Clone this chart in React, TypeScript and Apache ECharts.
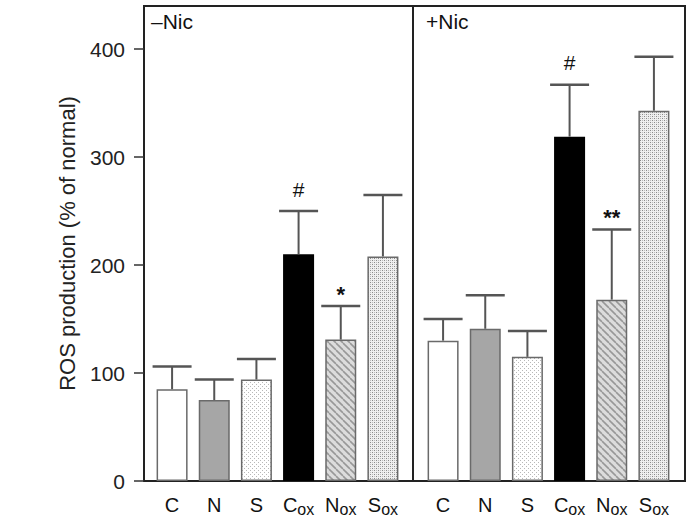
import React, { useEffect, useRef } from 'react';
import * as echarts from 'echarts';

const categories = ['C', 'N', 'S', 'Cox', 'Nox', 'Sox'];
const yTicks = [0, 100, 200, 300, 400];
const minusNicMeans = [85, 75, 94, 210, 131, 208];
const minusNicErrors = [21, 19, 19, 40, 31, 57];
const minusNicMarks = ['', '', '', '#', '*', ''];
const plusNicMeans = [130, 141, 115, 319, 168, 343];
const plusNicErrors = [20, 31, 24, 48, 65, 50];
const plusNicMarks = ['', '', '', '#', '**', ''];
const panelLabels = ['\u2013Nic', '+Nic'];
const yAxisName = 'ROS production (% of normal)';

const FONT = '"Liberation Sans", Arial, Helvetica, sans-serif';

function makeTile(size: number, bg: string, draw: (ctx: CanvasRenderingContext2D) => void) {
  const c = document.createElement('canvas');
  c.width = size;
  c.height = size;
  const ctx = c.getContext('2d') as CanvasRenderingContext2D;
  ctx.fillStyle = bg;
  ctx.fillRect(0, 0, size, size);
  draw(ctx);
  return c;
}

function buildFills() {
  const light = makeTile(4, '#ffffff', (ctx) => {
    ctx.fillStyle = '#b8b8b8';
    ctx.fillRect(0, 0, 1, 1);
    ctx.fillRect(2, 2, 1, 1);
  });
  const dense = makeTile(4, '#efefef', (ctx) => {
    ctx.fillStyle = '#8a8a8a';
    ctx.fillRect(0, 0, 1, 1);
    ctx.fillRect(2, 2, 1, 1);
    ctx.fillStyle = '#bcbcbc';
    ctx.fillRect(2, 0, 1, 1);
    ctx.fillRect(0, 2, 1, 1);
  });
  const hatch = makeTile(7, '#dcdcdc', (ctx) => {
    ctx.strokeStyle = '#989898';
    ctx.lineWidth = 1.6;
    for (const off of [-7, 0, 7]) {
      ctx.beginPath();
      ctx.moveTo(off, 0);
      ctx.lineTo(off + 7, 7);
      ctx.stroke();
    }
  });
  return [
    '#ffffff',
    '#a6a6a6',
    { image: light, repeat: 'repeat' },
    '#000000',
    { image: hatch, repeat: 'repeat' },
    { image: dense, repeat: 'repeat' },
  ];
}

export default function App() {
  const ref = useRef<HTMLDivElement>(null);
  useEffect(() => {
    if (!ref.current) return;
    const chart = echarts.init(ref.current, null, { renderer: 'svg' });
    const fills = buildFills();

    const barData = (means: number[]) =>
      means.map((v, i) => ({
        value: v,
        itemStyle: {
          color: fills[i] as any,
          borderColor: i === 3 ? '#000' : '#6a6a6a',
          borderWidth: 1.5,
        },
      }));

    const errRender = (marks: string[]) => (params: any, api: any) => {
      const i = api.value(0);
      const v = api.value(1);
      const e = api.value(2);
      const base = api.coord([i, v]);
      const top = api.coord([i, v + e]);
      const half = 19.5;
      const children: any[] = [
        { type: 'line', shape: { x1: base[0], y1: base[1], x2: top[0], y2: top[1] }, style: { stroke: '#555', lineWidth: 2 } },
        { type: 'line', shape: { x1: top[0] - half, y1: top[1], x2: top[0] + half, y2: top[1] }, style: { stroke: '#555', lineWidth: 2.5 } },
      ];
      const m = marks[params.dataIndex];
      if (m) {
        const isHash = m === '#';
        children.push({
          type: 'text',
          x: top[0],
          y: top[1] - (isHash ? 22 : 12),
          style: {
            text: m,
            fill: '#111',
            fontSize: isHash ? 21 : 22,
            fontWeight: isHash ? 'normal' : 'bold',
            fontFamily: FONT,
            align: 'center',
            verticalAlign: 'middle',
          },
        });
      }
      return { type: 'group', children };
    };

    const catAxis = (gridIndex: number) => ({
      type: 'category',
      gridIndex,
      data: categories,
      axisLine: { show: false },
      axisTick: { show: false },
      axisLabel: {
        interval: 0,
        margin: 12,
        formatter: (v: string) => (v.endsWith('ox') ? `{m|${v[0]}}{s|ox}` : `{m|${v}}`),
        rich: {
          m: { fontSize: 20, color: '#111', fontFamily: FONT, lineHeight: 24 },
          s: { fontSize: 16, color: '#111', fontFamily: FONT, lineHeight: 24, verticalAlign: 'bottom' },
        },
      },
    });

    const hiddenY = (gridIndex: number) => ({ type: 'value', gridIndex, min: 0, max: 440, show: false });

    chart.setOption({
      animation: false,
      backgroundColor: '#ffffff',
      grid: [
        { left: 151, width: 253, top: 6, bottom: 43 },
        { left: 422, width: 253, top: 6, bottom: 43 },
        { left: 144, width: 269, top: 6, bottom: 43, show: true, borderColor: '#222', borderWidth: 2, backgroundColor: 'transparent' },
        { left: 413, width: 272, top: 6, bottom: 43, show: true, borderColor: '#222', borderWidth: 2, backgroundColor: 'transparent' },
      ],
      xAxis: [
        catAxis(0),
        catAxis(1),
        { type: 'value', gridIndex: 2, show: false, min: 0, max: 1 },
        { type: 'value', gridIndex: 3, show: false, min: 0, max: 1 },
      ],
      yAxis: [
        hiddenY(0),
        hiddenY(1),
        {
          type: 'value',
          gridIndex: 2,
          min: 0,
          max: 440,
          axisLine: { show: false },
          splitLine: { show: false },
          axisTick: { show: true, length: 10, customValues: yTicks, lineStyle: { color: '#333', width: 1.5 } },
          axisLabel: { customValues: yTicks, fontSize: 21, color: '#222', fontFamily: FONT, margin: 19 },
          name: yAxisName,
          nameLocation: 'middle',
          nameRotate: 90,
          nameGap: 66,
          nameMoveOverlap: false,
          nameTextStyle: { fontSize: 22, color: '#222', fontFamily: FONT },
        },
        hiddenY(3),
      ],
      graphic: [
        { type: 'text', left: 151, top: 11, style: { text: panelLabels[0], fontSize: 21, fill: '#111', fontFamily: FONT } },
        { type: 'text', left: 426, top: 11, style: { text: panelLabels[1], fontSize: 21, fill: '#111', fontFamily: FONT } },
      ],
      series: [
        { type: 'bar', xAxisIndex: 0, yAxisIndex: 0, barWidth: 31, data: barData(minusNicMeans), z: 2 },
        { type: 'bar', xAxisIndex: 1, yAxisIndex: 1, barWidth: 31, data: barData(plusNicMeans), z: 2 },
        {
          type: 'custom',
          xAxisIndex: 0,
          yAxisIndex: 0,
          z: 3,
          renderItem: errRender(minusNicMarks),
          data: minusNicMeans.map((v, i) => [i, v, minusNicErrors[i]]),
        },
        {
          type: 'custom',
          xAxisIndex: 1,
          yAxisIndex: 1,
          z: 3,
          renderItem: errRender(plusNicMarks),
          data: plusNicMeans.map((v, i) => [i, v, plusNicErrors[i]]),
        },
      ],
    });
    return () => chart.dispose();
  }, []);
  return (
    <div
      ref={ref}
      style={{ position: 'fixed', left: 0, top: 0, width: 691, height: 524, background: '#fff' }}
    />
  );
}
